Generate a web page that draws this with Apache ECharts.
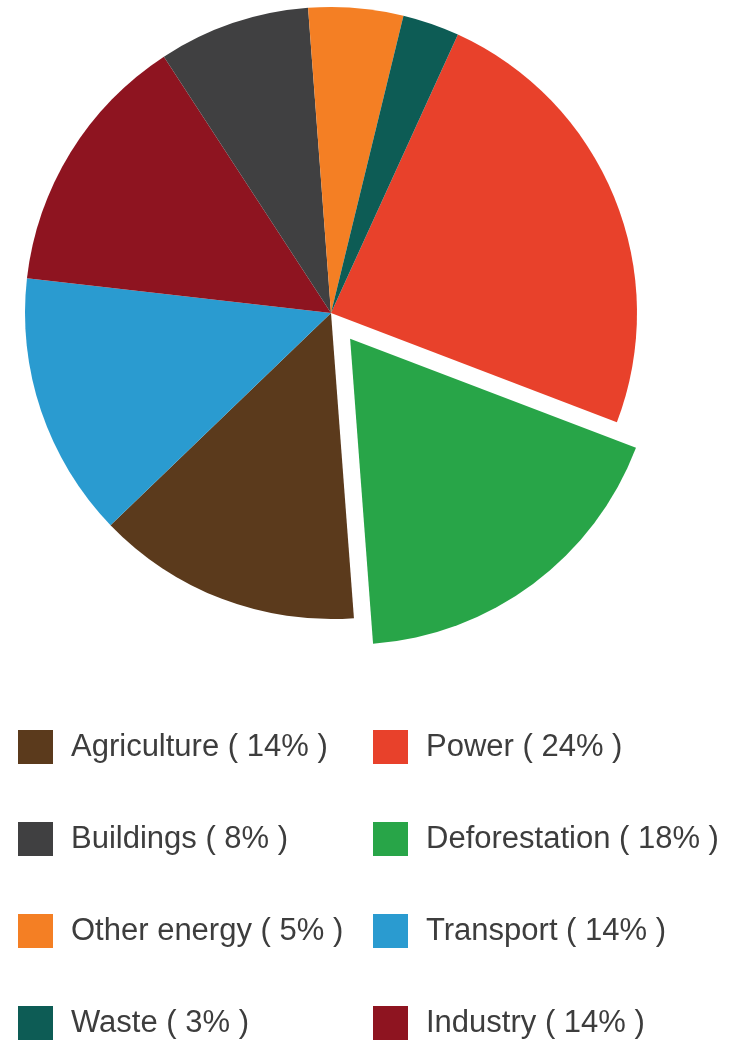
<!DOCTYPE html>
<html>
<head>
<meta charset="utf-8">
<script src="https://cdn.jsdelivr.net/npm/echarts@6/dist/echarts.min.js"></script>
<style>
html,body{margin:0;padding:0;background:#fff;}
#chart{width:737px;height:1040px;}
</style>
</head>
<body>
<div id="chart"></div>
<script>
// Data (clockwise order starting from Power)
const sliceNames  = ['Power', 'Deforestation', 'Agriculture', 'Transport', 'Industry', 'Buildings', 'Other energy', 'Waste'];
const sliceValues = [24, 18, 14, 14, 14, 8, 5, 3];
const sliceColors = ['#e8412b', '#28a548', '#5b3a1c', '#2a9bd0', '#8e1420', '#404041', '#f47f24', '#0d5c55'];
const legendLeftNames  = ['Agriculture', 'Buildings', 'Other energy', 'Waste'];
const legendRightNames = ['Power', 'Deforestation', 'Transport', 'Industry'];
const explodedName = 'Deforestation';

const valueByName = {};
sliceNames.forEach((n, i) => { valueByName[n] = sliceValues[i]; });

const legendCommon = {
  orient: 'vertical',
  top: 730,
  padding: 0,
  itemWidth: 35,
  itemHeight: 34,
  itemGap: 58,
  icon: 'rect',
  selectedMode: false,
  formatter: name => name + ' ( ' + valueByName[name] + '% )',
  textStyle: {
    fontFamily: '"Liberation Sans Narrow", "Liberation Sans", Arial, sans-serif',
    fontSize: 31,
    color: '#3d3d3d',
    padding: [0, 0, 0, 13]
  }
};

const chart = echarts.init(document.getElementById('chart'), null, {renderer: 'canvas'});
chart.setOption({
  animation: false,
  color: sliceColors,
  legend: [
    Object.assign({}, legendCommon, {left: 18, data: legendLeftNames}),
    Object.assign({}, legendCommon, {left: 373, data: legendRightNames})
  ],
  series: [{
    type: 'pie',
    center: [331, 313],
    radius: 306,
    startAngle: 65.5,
    clockwise: true,
    selectedMode: 'single',
    selectedOffset: 32,
    label: {show: false},
    labelLine: {show: false},
    emphasis: {disabled: true},
    itemStyle: {borderWidth: 0},
    data: sliceNames.map((n, i) => ({
      name: n,
      value: sliceValues[i],
      selected: n === explodedName
    }))
  }]
});
</script>
</body>
</html>
